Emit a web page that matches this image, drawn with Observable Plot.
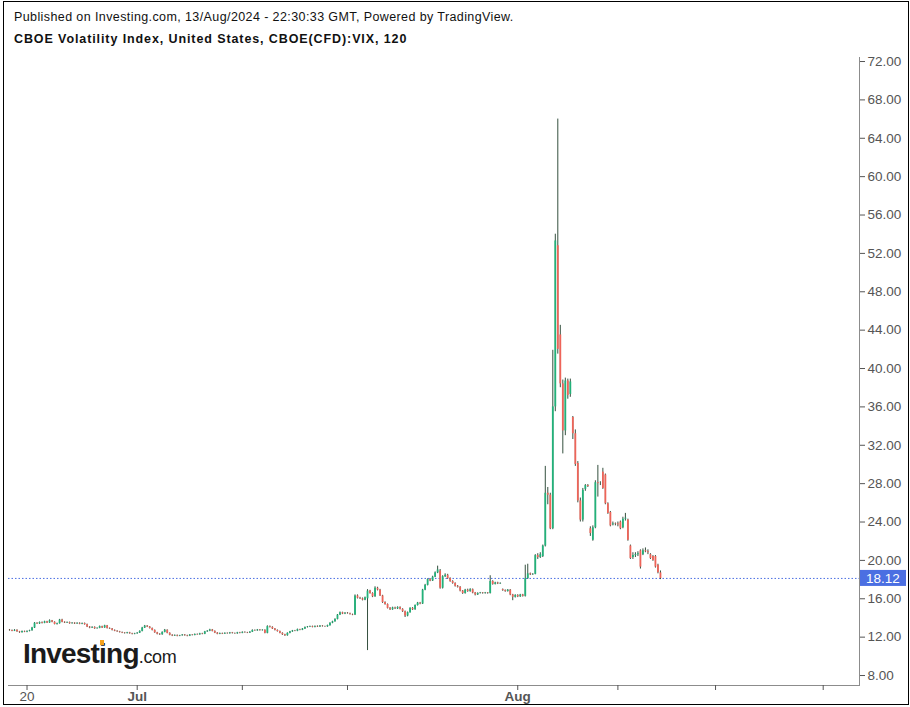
<!DOCTYPE html>
<html>
<head>
<meta charset="utf-8">
<script src="https://cdn.jsdelivr.net/npm/d3@7"></script>
<script src="https://cdn.jsdelivr.net/npm/@observablehq/plot@0.6"></script>
<style>
  body { margin: 0; background: #fff; font-family: "Liberation Sans", Arial, sans-serif; }
  #page { position: relative; width: 910px; height: 707px; overflow: hidden; background: #fff; }
  #border { position: absolute; left: 3px; top: 1px; width: 906px; height: 704px; border: 1px solid #000; box-sizing: border-box; z-index: 5; pointer-events: none; }
  .hdr { position: absolute; left: 14px; font-size: 12.5px; line-height: 14px; color: #111; white-space: nowrap; }
  #h1 { top: 10px; letter-spacing: 0.4px; }
  #h2 { top: 32px; font-weight: bold; letter-spacing: 0.9px; }
  #chart { position: absolute; left: 0; top: 50px; width: 910px; height: 654px; overflow: hidden; }
  #logo { position: absolute; left: 23px; top: 638px; white-space: nowrap; color: #1b1b1b; z-index: 3; }
  #logo .big { font-size: 28px; font-weight: bold; letter-spacing: -0.8px; }
  #logo .com { font-size: 18px; letter-spacing: -0.3px; }
  #dot { position: absolute; left: 100px; top: 640px; width: 4px; height: 5px; background: #f5a11c; z-index: 4; }
</style>
</head>
<body>
<div id="page">
  <div class="hdr" id="h1">Published on Investing.com, 13/Aug/2024 - 22:30:33 GMT, Powered by TradingView.</div>
  <div class="hdr" id="h2">CBOE Volatility Index, United States, CBOE(CFD):VIX, 120</div>
  <div id="chart"></div>
  <div id="logo"><span class="big">Investing</span><span class="com">.com</span></div>
  <div id="dot"></div>
  <div id="border"></div>
</div>
<script>
// 2-hour bars, 18 Jun - 13 Aug 2024
const opens = [
  12.72, 12.68, 12.62, 12.71, 12.55, 12.47, 12.58, 12.52, 12.60, 12.66,
  12.95, 13.45, 13.38, 13.52, 13.44, 13.60, 13.48, 13.70, 13.55, 13.32,
  13.40, 13.78, 13.55, 13.48, 13.52, 13.40, 13.46, 13.38, 13.44, 13.35,
  13.42, 13.30, 13.05, 12.95, 13.02, 12.88, 12.92, 13.10, 12.96, 13.18,
  12.90, 12.85, 12.70, 12.62, 12.55, 12.48, 12.42, 12.38, 12.45, 12.36,
  12.30, 12.35, 12.42, 12.60, 12.95, 13.15, 13.05, 12.90, 12.70, 12.45,
  12.30, 12.25, 12.50, 12.72, 12.40, 12.20, 12.12, 12.18, 12.10, 12.15,
  12.22, 12.15, 12.10, 12.22, 12.18, 12.28, 12.24, 12.35, 12.30, 12.55,
  12.62, 12.75, 12.60, 12.42, 12.30, 12.38, 12.32, 12.40, 12.36, 12.44,
  12.38, 12.35, 12.45, 12.40, 12.50, 12.46, 12.42, 12.52, 12.70, 12.66,
  12.74, 12.68, 12.72, 12.40, 13.10, 13.02, 12.85, 12.70, 12.58, 12.40,
  12.25, 12.15, 12.40, 12.55, 12.65, 12.62, 12.78, 12.72, 12.85, 13.00,
  13.05, 13.10, 13.02, 13.12, 13.06, 13.15, 13.10, 13.08, 13.20, 13.45,
  13.60, 13.85, 14.30, 14.55, 14.40, 14.50, 14.45, 14.35, 14.30, 16.30,
  16.05, 16.00, 15.85, 16.00, 16.80, 16.55, 16.20, 17.10, 16.90, 16.30,
  15.60, 15.40, 15.00, 14.85, 15.05, 14.95, 15.10, 14.90, 14.65, 14.20,
  14.55, 15.00, 14.85, 15.30, 15.55, 15.45, 16.90, 17.40, 18.00, 17.85,
  18.25, 18.70, 18.90, 17.10, 18.30, 18.45, 18.10, 17.80, 17.60, 17.30,
  17.20, 16.80, 16.55, 16.90, 16.75, 16.95, 16.60, 16.40, 16.55, 16.60,
  16.55, 16.60, 16.55, 17.80, 17.50, 17.65, 17.55, 16.95, 16.85, 16.75,
  16.90, 16.40, 16.15, 16.35, 16.20, 16.40, 16.25, 18.10, 18.60, 18.50,
  18.55, 20.50, 20.30, 20.40, 21.50, 27.00, 26.80, 23.30, 36.00, 52.80,
  43.50, 38.40, 33.50, 38.70, 37.30, 34.90, 33.20, 30.10, 26.20, 24.20,
  27.40, 27.80, 23.30, 22.10, 23.40, 28.10, 28.00, 29.20, 28.90, 25.90,
  25.00, 23.70, 23.80, 23.80, 24.00, 23.40, 24.30, 24.20, 21.50, 20.30,
  20.50, 20.60, 21.00, 20.60, 21.00, 20.90, 20.60, 20.40, 20.40, 19.50, 18.70
];
const highs = [
  12.80, 12.74, 12.78, 12.76, 12.60, 12.64, 12.63, 12.66, 12.72, 13.02,
  13.52, 13.50, 13.58, 13.58, 13.66, 13.65, 13.80, 13.74, 13.60, 13.46,
  13.85, 13.86, 13.60, 13.58, 13.57, 13.52, 13.50, 13.50, 13.49, 13.47,
  13.47, 13.36, 13.10, 13.08, 13.07, 12.97, 13.16, 13.14, 13.24, 13.22,
  12.96, 12.90, 12.75, 12.67, 12.60, 12.53, 12.47, 12.50, 12.50, 12.40,
  12.40, 12.47, 12.66, 13.02, 13.22, 13.20, 13.10, 12.95, 12.75, 12.50,
  12.36, 12.55, 12.80, 12.76, 12.45, 12.25, 12.23, 12.22, 12.19, 12.27,
  12.27, 12.20, 12.27, 12.26, 12.33, 12.33, 12.40, 12.40, 12.60, 12.68,
  12.82, 12.80, 12.65, 12.47, 12.43, 12.42, 12.45, 12.44, 12.49, 12.49,
  12.43, 12.50, 12.50, 12.55, 12.55, 12.50, 12.57, 12.76, 12.75, 12.80,
  12.79, 12.77, 12.76, 13.18, 13.16, 13.08, 12.90, 12.75, 12.63, 12.45,
  12.30, 12.45, 12.60, 12.70, 12.70, 12.84, 12.82, 12.90, 13.06, 13.11,
  13.15, 13.15, 13.17, 13.17, 13.20, 13.20, 13.14, 13.25, 13.50, 13.66,
  13.92, 14.36, 14.62, 14.60, 14.56, 14.56, 14.50, 14.40, 16.40, 16.40,
  16.15, 16.08, 16.18, 16.95, 16.88, 16.62, 17.25, 17.20, 16.98, 16.36,
  15.68, 15.46, 15.08, 15.12, 15.12, 15.16, 15.16, 14.96, 14.72, 14.62,
  15.06, 15.08, 15.36, 15.62, 15.62, 16.98, 17.50, 18.08, 18.10, 18.35,
  18.80, 19.40, 19.05, 18.40, 18.60, 18.55, 18.18, 17.88, 17.66, 17.38,
  17.26, 16.86, 16.98, 17.00, 17.05, 17.02, 16.66, 16.62, 16.66, 16.65,
  16.66, 16.65, 18.40, 17.88, 17.72, 17.72, 17.66, 17.02, 16.92, 16.96,
  16.96, 16.46, 16.42, 16.42, 16.46, 16.46, 19.50, 19.60, 18.68, 18.62,
  20.60, 20.70, 20.80, 21.60, 29.80, 27.60, 27.00, 41.90, 54.00, 66.00,
  44.50, 38.80, 39.00, 38.90, 38.90, 35.00, 33.60, 30.30, 26.50, 27.50,
  27.90, 27.90, 23.50, 23.60, 28.30, 29.90, 28.20, 29.60, 29.00, 26.00,
  25.10, 24.00, 23.90, 24.00, 24.10, 24.50, 24.90, 24.30, 21.60, 20.80,
  20.80, 20.90, 21.10, 21.20, 21.30, 21.10, 20.70, 20.50, 20.50, 19.60, 18.90
];
const lows = [
  12.62, 12.57, 12.58, 12.50, 12.40, 12.43, 12.47, 12.46, 12.55, 12.62,
  12.90, 13.33, 13.33, 13.38, 13.40, 13.42, 13.44, 13.50, 13.28, 13.26,
  13.36, 13.50, 13.42, 13.43, 13.35, 13.36, 13.32, 13.33, 13.30, 13.30,
  13.25, 13.00, 12.88, 12.90, 12.82, 12.83, 12.88, 12.90, 12.92, 12.85,
  12.80, 12.65, 12.57, 12.50, 12.43, 12.37, 12.32, 12.33, 12.31, 12.24,
  12.25, 12.30, 12.38, 12.55, 12.90, 13.00, 12.85, 12.65, 12.40, 12.24,
  12.18, 12.20, 12.45, 12.35, 12.14, 12.06, 12.07, 12.04, 12.05, 12.10,
  12.10, 12.04, 12.06, 12.13, 12.14, 12.20, 12.20, 12.25, 12.26, 12.50,
  12.57, 12.55, 12.37, 12.25, 12.26, 12.27, 12.28, 12.31, 12.31, 12.33,
  12.30, 12.30, 12.35, 12.36, 12.41, 12.37, 12.38, 12.48, 12.61, 12.61,
  12.63, 12.63, 12.35, 12.35, 12.96, 12.80, 12.65, 12.53, 12.35, 12.18,
  12.08, 12.10, 12.35, 12.50, 12.57, 12.57, 12.67, 12.68, 12.80, 12.95,
  13.00, 12.97, 12.97, 13.01, 13.01, 13.05, 13.03, 13.03, 13.15, 13.40,
  13.55, 13.80, 14.25, 14.35, 14.35, 14.40, 14.30, 14.24, 14.25, 15.98,
  15.92, 15.78, 15.80, 10.60, 16.48, 16.12, 16.15, 16.82, 16.24, 15.52,
  15.33, 14.94, 14.78, 14.80, 14.88, 14.88, 14.84, 14.58, 14.05, 14.12,
  14.50, 14.78, 14.80, 15.24, 15.38, 15.40, 16.84, 17.34, 17.78, 17.80,
  18.20, 18.62, 17.00, 17.02, 18.22, 18.02, 17.72, 17.52, 17.22, 17.12,
  16.72, 16.46, 16.48, 16.68, 16.68, 16.52, 16.30, 16.34, 16.50, 16.48,
  16.48, 16.48, 16.50, 17.42, 17.44, 17.48, 17.50, 16.78, 16.68, 16.70,
  16.32, 15.80, 16.08, 16.12, 16.14, 16.18, 16.18, 18.02, 18.42, 18.44,
  18.50, 20.10, 20.20, 20.30, 21.40, 25.80, 23.20, 23.20, 35.50, 41.50,
  38.00, 31.10, 33.00, 36.80, 37.00, 32.60, 29.80, 26.00, 24.00, 24.00,
  27.20, 27.60, 22.50, 22.00, 23.30, 26.60, 27.80, 27.40, 25.80, 24.80,
  23.50, 23.60, 23.60, 23.50, 23.20, 23.30, 24.10, 22.00, 20.10, 20.10,
  20.30, 20.40, 19.10, 20.50, 20.80, 20.60, 20.10, 19.90, 19.20, 18.60, 18.00
];
const closes = [
  12.68, 12.62, 12.71, 12.55, 12.47, 12.58, 12.52, 12.60, 12.66, 12.95,
  13.45, 13.38, 13.52, 13.44, 13.60, 13.48, 13.70, 13.55, 13.32, 13.40,
  13.78, 13.55, 13.48, 13.52, 13.40, 13.46, 13.38, 13.44, 13.35, 13.42,
  13.30, 13.05, 12.95, 13.02, 12.88, 12.92, 13.10, 12.96, 13.18, 12.90,
  12.85, 12.70, 12.62, 12.55, 12.48, 12.42, 12.38, 12.45, 12.36, 12.30,
  12.35, 12.42, 12.60, 12.95, 13.15, 13.05, 12.90, 12.70, 12.45, 12.30,
  12.25, 12.50, 12.72, 12.40, 12.20, 12.12, 12.18, 12.10, 12.15, 12.22,
  12.15, 12.10, 12.22, 12.18, 12.28, 12.24, 12.35, 12.30, 12.55, 12.62,
  12.75, 12.60, 12.42, 12.30, 12.38, 12.32, 12.40, 12.36, 12.44, 12.38,
  12.35, 12.45, 12.40, 12.50, 12.46, 12.42, 12.52, 12.70, 12.66, 12.74,
  12.68, 12.72, 12.40, 13.10, 13.02, 12.85, 12.70, 12.58, 12.40, 12.25,
  12.15, 12.40, 12.55, 12.65, 12.62, 12.78, 12.72, 12.85, 13.00, 13.05,
  13.10, 13.02, 13.12, 13.06, 13.15, 13.10, 13.08, 13.20, 13.45, 13.60,
  13.85, 14.30, 14.55, 14.40, 14.50, 14.45, 14.35, 14.30, 16.30, 16.05,
  16.00, 15.85, 16.10, 16.80, 16.55, 16.20, 17.10, 16.90, 16.30, 15.60,
  15.40, 15.00, 14.85, 15.05, 14.95, 15.10, 14.90, 14.65, 14.20, 14.55,
  15.00, 14.85, 15.30, 15.55, 15.45, 16.90, 17.40, 18.00, 17.85, 18.25,
  18.70, 19.00, 17.10, 18.30, 18.45, 18.10, 17.80, 17.60, 17.30, 17.20,
  16.80, 16.55, 16.90, 16.75, 16.95, 16.60, 16.40, 16.55, 16.60, 16.55,
  16.60, 16.55, 17.80, 17.50, 17.65, 17.55, 17.60, 16.85, 16.75, 16.90,
  16.40, 16.15, 16.35, 16.20, 16.40, 16.25, 18.10, 18.60, 18.50, 18.55,
  20.50, 20.30, 20.60, 21.50, 27.00, 26.80, 23.30, 36.00, 53.30, 42.00,
  38.40, 33.50, 38.70, 37.20, 38.60, 33.20, 30.00, 26.20, 24.20, 27.30,
  27.80, 27.70, 22.80, 23.40, 28.10, 28.00, 28.00, 27.50, 25.90, 24.90,
  23.60, 23.80, 23.75, 23.70, 23.30, 24.30, 24.40, 22.10, 20.20, 20.50,
  20.60, 20.70, 19.30, 21.00, 20.90, 20.80, 20.20, 20.00, 19.30, 18.70, 18.12
];

// time axis: bar index of each session tick and its label
const tickBars = [7, 51, 93, 135, 203, 243, 282, 325];
const tickLabels = ["20", "Jul", "", "", "Aug", "", "", ""];
const yTicks = [8, 12, 16, 20, 24, 28, 32, 36, 40, 44, 48, 52, 56, 60, 64, 68, 72];

const bars = closes.map((c, i) => ({i, o: opens[i], h: highs[i], l: lows[i], c}));
const last = closes[closes.length - 1];
const upColor = "#22b27a", downColor = "#ee6459", wickColor = "#35503f";
const lineBlue = "#4b6fe2";

const labelOf = d => tickLabels[tickBars.indexOf(d)];

const chart = Plot.plot({
  width: 910,
  height: 654,
  marginLeft: 8,
  marginRight: 51,
  marginTop: 7,
  marginBottom: 19,
  style: {background: "transparent", fontFamily: "Liberation Sans, Arial, sans-serif", fontSize: "13px", color: "#555", overflow: "hidden"},
  x: {domain: [-0.4, 339.5], axis: null},
  y: {domain: [6.96, 72.42], axis: null},
  marks: [
    Plot.ruleY([last], {stroke: lineBlue, strokeDasharray: "1.5,2", strokeWidth: 1}),
    Plot.ruleX(bars, {x: "i", y1: "l", y2: "h", stroke: wickColor, strokeWidth: 1}),
    Plot.ruleX(bars, {x: "i", y1: "o", y2: "c", stroke: d => d.c >= d.o ? upColor : downColor, strokeWidth: 1.8}),
    Plot.frame({anchor: "right", stroke: "#8c8c8c"}),
    Plot.frame({anchor: "bottom", stroke: "#8c8c8c"}),
    Plot.axisY({anchor: "right", ticks: yTicks, tickFormat: d3.format(".2f"), tickSize: 5, tickPadding: 3, label: null, fontSize: 13.5}),
    Plot.axisX({ticks: tickBars, tickSize: 5, tickFormat: () => "", label: null}),
    Plot.axisX({ticks: tickBars.filter(d => labelOf(d) === "20"), tickSize: 0, tickPadding: 6, tickFormat: labelOf, label: null, fontSize: 13.5}),
    Plot.axisX({ticks: tickBars.filter(d => labelOf(d) === "Jul" || labelOf(d) === "Aug"), tickSize: 0, tickPadding: 6, tickFormat: labelOf, label: null, fontSize: 13.5, fontWeight: "bold"})
  ]
});

// last-price tag on the price scale
const yLast = chart.scale("y").apply(last);
const svg = d3.select(chart);
svg.append("rect").attr("x", 860).attr("y", yLast - 8).attr("width", 46).attr("height", 16).attr("fill", lineBlue);
svg.append("text").attr("x", 883).attr("y", yLast).attr("dy", "0.36em").attr("text-anchor", "middle")
  .attr("fill", "#fff").attr("font-size", 13.5).text(d3.format(".2f")(last));

d3.select("#chart").append(() => chart);
</script>
</body>
</html>
